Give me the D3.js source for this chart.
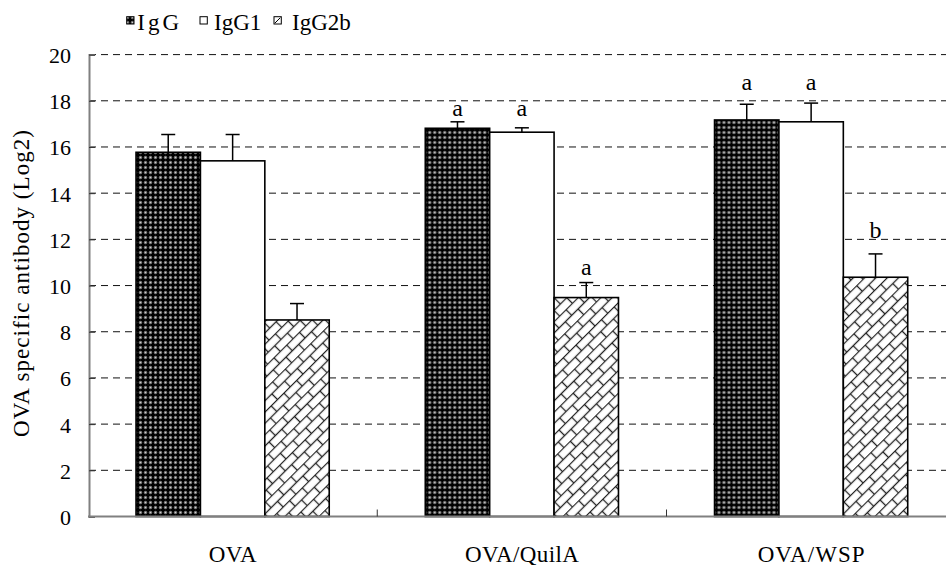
<!DOCTYPE html>
<html><head><meta charset="utf-8">
<script src="https://cdn.jsdelivr.net/npm/d3@7"></script>
<style>html,body{margin:0;padding:0;background:#fff;}svg{display:block;}</style>
</head><body>
<svg id="c" width="946" height="565"></svg>
<script>
// ---- data ----
const categories = ["OVA", "OVA/QuilA", "OVA/WSP"];
const seriesNames = ["IgG", "IgG1", "IgG2b"];
const igG   = [15.77, 16.81, 17.17];
const igG1  = [15.40, 16.64, 17.09];
const igG2b = [8.51, 9.48, 10.36];
const errIgG   = [0.77, 0.28, 0.68];
const errIgG1  = [1.14, 0.19, 0.81];
const errIgG2b = [0.71, 0.65, 1.01];
const sigIgG   = ["", "a", "a"];
const sigIgG1  = ["", "a", "a"];
const sigIgG2b = ["", "a", "b"];
const sigAtIgG   = [null, 17.35, 18.47];
const sigAtIgG1  = [null, 17.35, 18.47];
const sigAtIgG2b = [null, 10.45, 12.08];
const yTicks = [0, 2, 4, 6, 8, 10, 12, 14, 16, 18, 20];
const yTitle = "OVA specific antibody (Log2)";

const seriesVals = [igG, igG1, igG2b];
const seriesErr = [errIgG, errIgG1, errIgG2b];
const seriesSig = [sigIgG, sigIgG1, sigIgG2b];
const seriesSigAt = [sigAtIgG, sigAtIgG1, sigAtIgG2b];

const FONT = '"Liberation Serif", "Times New Roman", serif';
const svg = d3.select("#c");
const defs = svg.append("defs");

// IgG dark lattice pattern
const p1 = defs.append("pattern").attr("id","pIgG").attr("patternUnits","userSpaceOnUse")
  .attr("width",5).attr("height",5);
p1.append("rect").attr("width",5).attr("height",5).attr("fill","#000");
p1.append("circle").attr("cx",2.5).attr("cy",2.5).attr("r",1.7).attr("fill","#7a7a7a");
p1.append("circle").attr("cx",2.5).attr("cy",2.5).attr("r",0.6).attr("fill","#dddddd");

// IgG2b diagonal brick pattern
const p3 = defs.append("pattern").attr("id","pIgG2b").attr("patternUnits","userSpaceOnUse")
  .attr("width",18).attr("height",16).attr("patternTransform","rotate(-45)");
p3.append("rect").attr("width",18).attr("height",16).attr("fill","#fff");
[[0,0.5,18,0.5],[0,8.5,18,8.5],[4.5,0.5,4.5,8.5],[13.5,8.5,13.5,16.5]].forEach(l=>{
  p3.append("line").attr("x1",l[0]).attr("y1",l[1]).attr("x2",l[2]).attr("y2",l[3])
    .attr("stroke","#222").attr("stroke-width",1.3);
});
const fills = ["url(#pIgG)", "#fff", "url(#pIgG2b)"];

// ---- scales ----
const x0 = d3.scaleBand().domain(categories).range([88, 955.75]).paddingInner(0).paddingOuter(0);
const bw = x0.bandwidth();
const groupW = 193.2;
const x1 = d3.scaleBand().domain(seriesNames).range([(bw-groupW)/2, (bw+groupW)/2]).padding(0);
const y = d3.scaleLinear().domain([0,20]).range([516.5, 54.6]);

// gridlines
svg.append("g").selectAll("line").data(yTicks.filter(t=>t>0)).join("line")
  .attr("x1",89).attr("x2",946).attr("y1",d=>y(d)).attr("y2",d=>y(d))
  .attr("stroke","#111").attr("stroke-width",1).attr("stroke-dasharray","7,5");

// bars
const groups = svg.append("g").selectAll("g").data(categories).join("g")
  .attr("transform", d=>`translate(${x0(d)},0)`);
seriesNames.forEach((s, si) => {
  groups.append("rect")
    .attr("x", x1(s)).attr("width", x1.bandwidth())
    .attr("y", (d,i)=>y(seriesVals[si][i]))
    .attr("height", (d,i)=>y(0)-y(seriesVals[si][i]))
    .attr("fill", fills[si]).attr("stroke","#000").attr("stroke-width",1.6);
  groups.append("line")
    .attr("x1", x1(s)+x1.bandwidth()/2).attr("x2", x1(s)+x1.bandwidth()/2)
    .attr("y1",(d,i)=>y(seriesVals[si][i])).attr("y2",(d,i)=>y(seriesVals[si][i]+seriesErr[si][i]))
    .attr("stroke","#000").attr("stroke-width",1.5);
  groups.append("line")
    .attr("x1", x1(s)+x1.bandwidth()/2-7).attr("x2", x1(s)+x1.bandwidth()/2+7)
    .attr("y1",(d,i)=>y(seriesVals[si][i]+seriesErr[si][i])).attr("y2",(d,i)=>y(seriesVals[si][i]+seriesErr[si][i]))
    .attr("stroke","#000").attr("stroke-width",1.5);
  groups.append("text")
    .attr("x", x1(s)+x1.bandwidth()/2)
    .attr("y",(d,i)=> seriesSigAt[si][i]==null ? 0 : y(seriesSigAt[si][i]))
    .attr("text-anchor","middle").style("font-family",FONT).style("font-size","24px")
    .text((d,i)=>seriesSig[si][i]);
});

// axes
const yAxis = d3.axisLeft(y).tickValues(yTicks).tickSize(-6).tickPadding(18).tickFormat(d3.format("d"));
const gy = svg.append("g").attr("transform","translate(89,0)").call(yAxis);
gy.select(".domain").attr("stroke","#808080").attr("stroke-width",2);
gy.selectAll(".tick line").attr("stroke","#333");
gy.selectAll(".tick text").style("font-family",FONT).style("font-size","22px").attr("fill","#000")
  .attr("dy","0.36em");

svg.append("line").attr("x1",88).attr("x2",946).attr("y1",y(0)).attr("y2",y(0))
  .attr("stroke","#808080").attr("stroke-width",2);
svg.append("g").selectAll("line").data(categories.slice(1)).join("line")
  .attr("x1",d=>x0(d)).attr("x2",d=>x0(d)).attr("y1",y(0)).attr("y2",y(0)-7)
  .attr("stroke","#333").attr("stroke-width",1);

// category labels
const catLen = {"OVA":48, "OVA/QuilA":114, "OVA/WSP":107};
svg.append("g").selectAll("text").data(categories).join("text")
  .attr("x", d=>x0(d)+bw/2 - catLen[d]/2).attr("y", 561.5)
  .style("font-family",FONT).style("font-size","23px")
  .attr("textLength", d=>catLen[d]).attr("lengthAdjust","spacing")
  .text(d=>d);

// y title
svg.append("text").attr("transform","translate(29,283.5) rotate(-90)")
  .attr("x",-153.5).attr("y",0)
  .style("font-family",FONT).style("font-size","23px")
  .attr("textLength",307).attr("lengthAdjust","spacing")
  .text(yTitle);

// legend
const legX = [126.7, 200, 274];
const legTextX = [137.3, 214, 292];
const lg = svg.append("g");
seriesNames.forEach((s, si) => {
  lg.append("rect").attr("x",legX[si]).attr("y",16.7).attr("width",7.3).attr("height",7.3)
    .attr("fill", si===0 ? fills[0] : "#fff").attr("stroke","#000").attr("stroke-width",1);
  if (si === 2) {
    lg.append("line").attr("x1",legX[si]+1).attr("y1",16.7+6.3).attr("x2",legX[si]+6.3).attr("y2",17.7)
      .attr("stroke","#000").attr("stroke-width",1);
  }
  lg.append("text").attr("x",legTextX[si]).attr("y",30)
    .style("font-family",FONT).style("font-size","23px").style("letter-spacing", si===0 ? "3px" : "0px").text(s);
});
</script>
</body></html>
